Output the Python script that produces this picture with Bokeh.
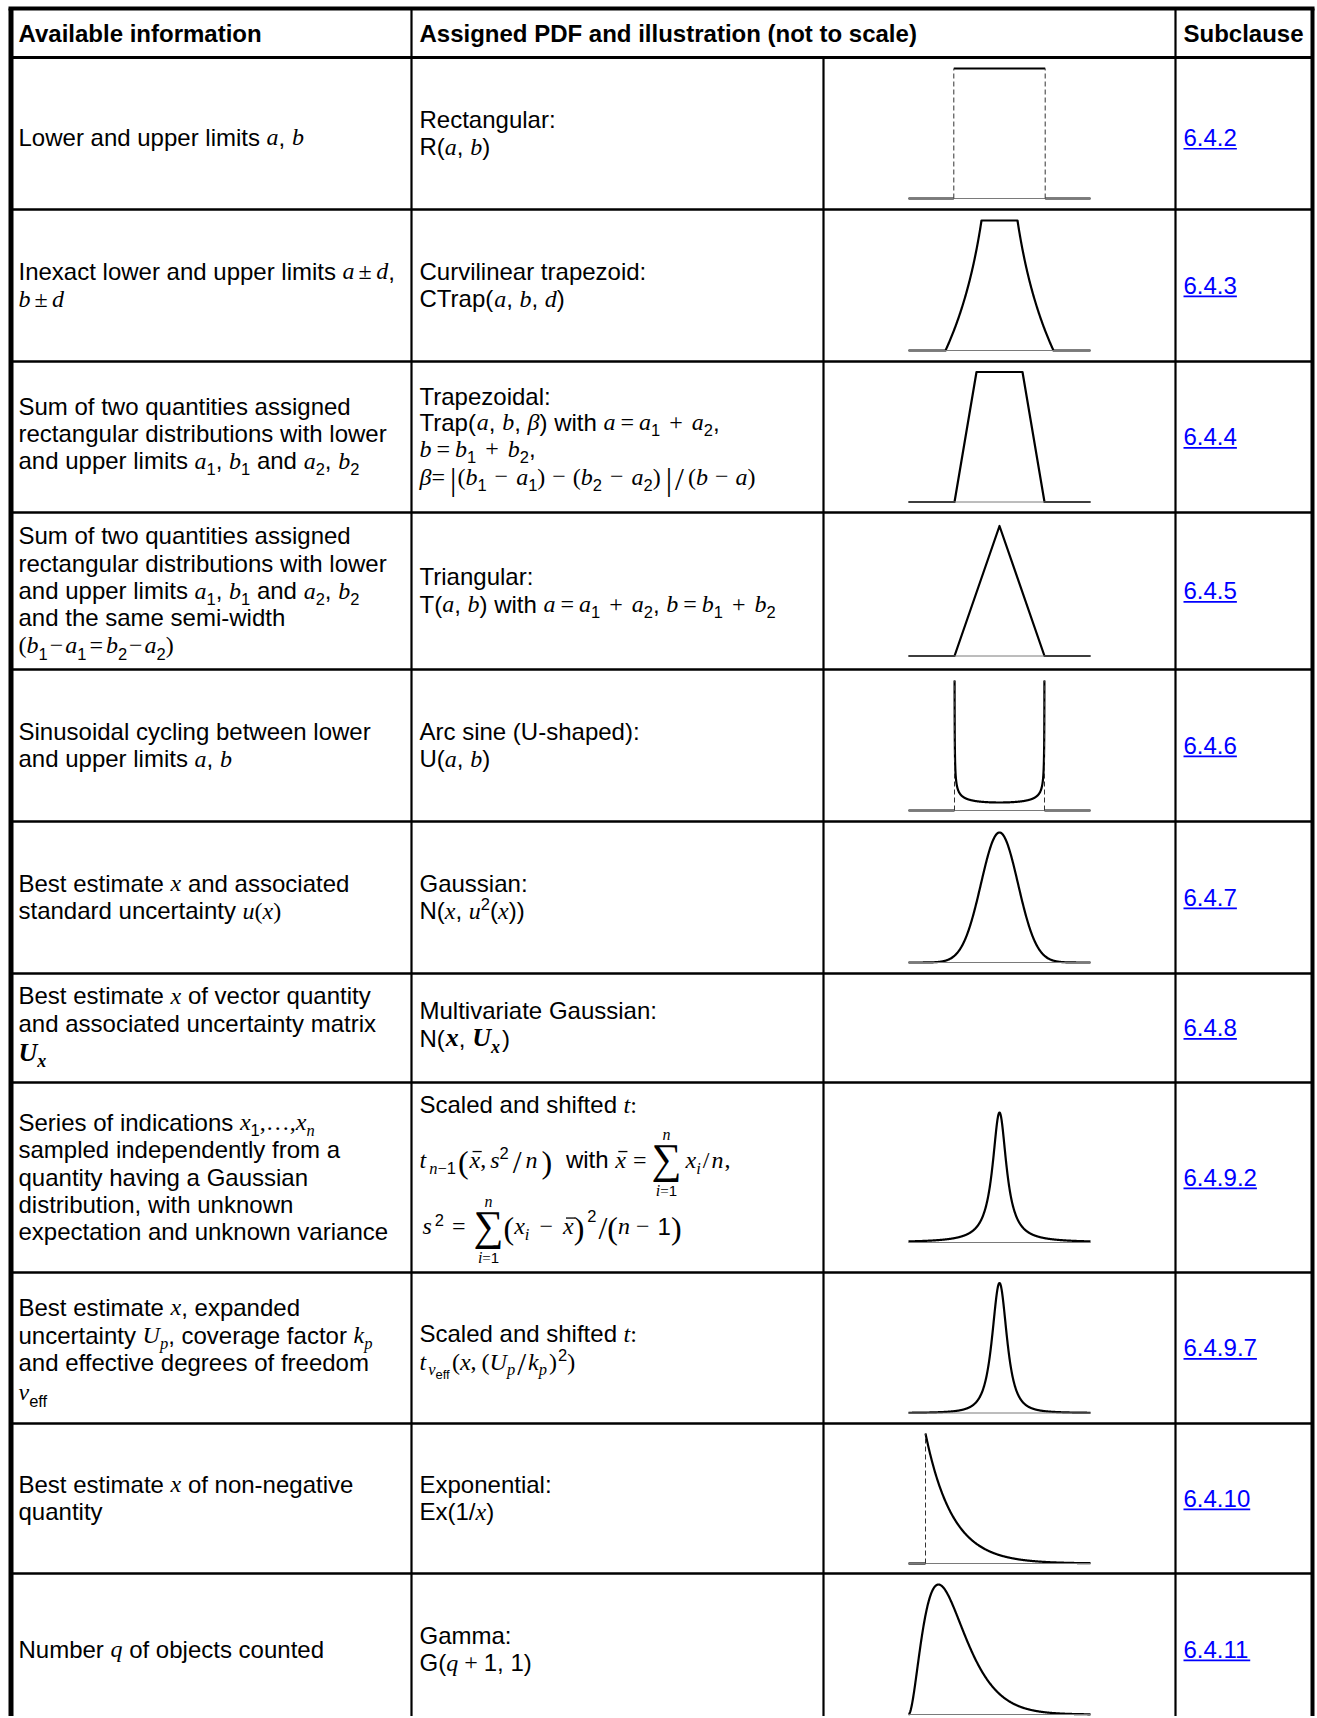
import numpy as np
from collections import defaultdict
from bokeh.plotting import figure
from bokeh.models import Range1d, ColumnDataSource
from bokeh.core.properties import value
from bokeh.embed import file_html
from bokeh.resources import INLINE

# ---------------------------------------------------------------- data
HEADERS = ["Available information",
           "Assigned PDF and illustration (not to scale)",
           "Subclause"]
SUBCLAUSES = ["6.4.2", "6.4.3", "6.4.4", "6.4.5", "6.4.6", "6.4.7", "6.4.8",
              "6.4.9.2", "6.4.9.7", "6.4.10", "6.4.11"]
PDF_KINDS = ["rect", "ctrap", "trap", "tri", "arcsine", "gauss", None,
             "t", "t", "exp", "gamma"]
PDF_PARAMS = [{"half": 45.7}, {"w": 36, "d": 18}, {"base": 45, "top": 23},
              {"half": 45}, {"half": 45, "floor": 8}, {"sigma": 18.5}, {},
              {"nu": 1, "scale": 8.4}, {"nu": 2, "scale": 8.0},
              {"start": -74, "lam": 27}, {"start": -91, "k": 3, "theta": 15}]


# rich-text helpers
def R(t): return (t, 'r')
def I(t): return (t, 'i')
def S(t): return (t, 's')
def BI(t): return (t, 'bi')
def SUB(t): return (t, 'sub')
def SUBI(t): return (t, 'subi')
def SUBS(t): return (t, 'subs')
def SUBBI(t): return (t, 'subbi')
def SUP(t): return (t, 'sup')
def SUP2(t): return (t, 'sup2')
def SSUB(t): return (t, 'ssub')
def BIG(t): return (t, 'big')
def GAP(px): return ('__gap', px)
def BAR(t): return ('__bar', t, 'i')
def SUM(up, lo): return ('__sum', up, lo)
def OP(sym, g=3, g2=None): return [GAP(g), S(sym), GAP(g if g2 is None else g2)]


def L(*parts):
    out = []
    for q in parts:
        if isinstance(q, list):
            out.extend(q)
        else:
            out.append(q)
    return out


LIM_UP = [('n', 'lim')]
LIM_LO = [('i', 'lim'), ('=', 'lims'), ('1', 'limr')]

AVAILABLE_INFO = [
    [L(R("Lower and upper limits "), I("a"), R(", "), I("b"))],
    [L(R("Inexact lower and upper limits "), I("a"), OP("±", 4), I("d"), R(",")),
     L(I("b"), OP("±", 4), I("d"))],
    [[R("Sum of two quantities assigned")],
     [R("rectangular distributions with lower")],
     L(R("and upper limits "), I("a"), SUB("1"), R(", "), I("b"), SUB("1"), R(" and "),
       I("a"), SUB("2"), R(", "), I("b"), SUB("2"))],
    [[R("Sum of two quantities assigned")],
     [R("rectangular distributions with lower")],
     L(R("and upper limits "), I("a"), SUB("1"), R(", "), I("b"), SUB("1"), R(" and "),
       I("a"), SUB("2"), R(", "), I("b"), SUB("2")),
     [R("and the same semi-width")],
     L(S("("), I("b"), SUB("1"), OP("−", 2), I("a"), SUB("1"), OP("=", 3), I("b"), SUB("2"),
       OP("−", 2), I("a"), SUB("2"), S(")"))],
    [[R("Sinusoidal cycling between lower")],
     L(R("and upper limits "), I("a"), R(", "), I("b"))],
    [L(R("Best estimate "), I("x"), R(" and associated")),
     L(R("standard uncertainty "), I("u"), S("("), I("x"), S(")"))],
    [L(R("Best estimate "), I("x"), R(" of vector quantity")),
     [R("and associated uncertainty matrix")],
     L(BI("U"), SUBBI("x"))],
    [L(R("Series of indications "), I("x"), SUB("1"), S(",…,"), I("x"), SUBI("n")),
     [R("sampled independently from a")],
     [R("quantity having a Gaussian")],
     [R("distribution, with unknown")],
     [R("expectation and unknown variance")]],
    [L(R("Best estimate "), I("x"), R(", expanded")),
     L(R("uncertainty "), I("U"), SUBI("p"), R(", coverage factor "), I("k"), SUBI("p")),
     [R("and effective degrees of freedom")],
     L(I("ν"), SUB("eff"))],
    [L(R("Best estimate "), I("x"), R(" of non-negative")),
     [R("quantity")]],
    [L(R("Number "), I("q"), R(" of objects counted"))],
]

T_LINE2 = L(I("t"), GAP(3), SUBI("n"), SUBS("−"), SUB("1"), GAP(2), BIG("("), GAP(1), BAR("x"),
            S(","), GAP(4), I("s"), SUP("2"), GAP(4), BIG("/"), GAP(4), I("n"), GAP(4), BIG(")"),
            GAP(7), R(" with "), BAR("x"), OP("=", 7), SUM(LIM_UP, LIM_LO), GAP(6), I("x"),
            SUBI("i"), GAP(2), S("/"), GAP(2), I("n"), GAP(1), S(","))
T_LINE3 = L(GAP(3), I("s"), GAP(3), SUP("2"), OP("=", 8, 10), SUM(LIM_UP, LIM_LO), GAP(2),
            BIG("("), I("x"), SUBI("i"), OP("−", 10), BAR("x"), BIG(")"), GAP(3), SUP2("2"),
            GAP(2), BIG("/"), BIG("("), I("n"), OP("−", 6, 8), R("1"), BIG(")"))

ASSIGNED_PDF = [
    [[R("Rectangular:")], L(R("R("), I("a"), R(", "), I("b"), R(")"))],
    [[R("Curvilinear trapezoid:")],
     L(R("CTrap("), I("a"), R(", "), I("b"), R(", "), I("d"), R(")"))],
    [[R("Trapezoidal:")],
     L(R("Trap("), I("a"), R(", "), I("b"), R(", "), I("β"), R(") with "), I("a"), OP("=", 5),
       I("a"), SUB("1"), OP("+", 9), I("a"), SUB("2"), R(",")),
     L(I("b"), OP("=", 5), I("b"), SUB("1"), OP("+", 9), I("b"), SUB("2"), R(",")),
     L(I("β"), S("="), GAP(5), BIG("|"), GAP(1), S("("), I("b"), SUB("1"), OP("−", 8), I("a"),
       SUB("1"), S(")"), OP("−", 7), S("("), I("b"), SUB("2"), OP("−", 8), I("a"), SUB("2"),
       S(")"), GAP(5), BIG("|"), GAP(3), BIG("/"), GAP(4), S("("), I("b"), OP("−", 7), I("a"),
       S(")"))],
    [[R("Triangular:")],
     L(R("T("), I("a"), R(", "), I("b"), R(") with "), I("a"), OP("=", 5), I("a"), SUB("1"),
       OP("+", 9), I("a"), SUB("2"), R(", "), I("b"), OP("=", 5), I("b"), SUB("1"),
       OP("+", 9), I("b"), SUB("2"))],
    [[R("Arc sine (U-shaped):")], L(R("U("), I("a"), R(", "), I("b"), R(")"))],
    [[R("Gaussian:")],
     L(R("N("), I("x"), R(", "), I("u"), SUP("2"), R("("), I("x"), R("))"))],
    [[R("Multivariate Gaussian:")],
     L(R("N("), GAP(1), BI("x"), R(", "), BI("U"), SUBBI("x"), GAP(2), R(")"))],
    [L(R("Scaled and shifted "), I("t"), S(":")), T_LINE2, T_LINE3],
    [L(R("Scaled and shifted "), I("t"), S(":")),
     L(I("t"), GAP(2), SUBI("ν"), SSUB("eff"), GAP(2), S("("), I("x"), S(","), GAP(5), S("("),
       I("U"), SUBI("p"), GAP(2), BIG("/"), GAP(2), I("k"), SUBI("p"), GAP(2), S(")"),
       GAP(1), SUP("2"), S(")"))],
    [[R("Exponential:")], L(R("Ex(1/"), I("x"), R(")"))],
    [[R("Gamma:")], L(R("G("), I("q"), OP("+", 6), R("1, 1)"))],
]

# ---------------------------------------------------------------- layout
ROW_Y = [8, 57, 209, 361, 512, 669, 821, 973, 1082, 1272, 1423, 1573, 1725]
X_LEFT, X_C1, X_C2, X_C3, X_RIGHT = 10.5, 411, 823, 1175, 1312
TEXT_X = [18, 419, 1183]
ILL_CX, ILL_HALF, ILL_H = 999, 91, 130
LEAD = 27.4
BASE_OFF = 8.3          # baseline below the visual centre of a line
KBASE = 0.365           # renderer: drawn baseline sits this many ems below y
INFO_ADV = {6: [27.4, 30.0], 8: [27.6, 27.3, 30.0]}
INFO_SHIFT = {0: 4.4, 2: -3.0, 6: -3.0, 8: 2.4}
PDF_ADV = {2: [25.5, 26.5, 28.0], 6: [28.3], 7: [55.0, 66.5], 8: [28.0]}
PDF_SHIFT = {6: -3.0, 7: -11.5}
SUB_SHIFT = {0: 4.4}

PW, PH = 1316, 1716
XR = (0, PW)
YR = (0, PH)

FS = 24.0
SS = 16.5
STY = {
    'r': ('Liberation Sans', 'normal', FS, 0, 'sans'),
    'b': ('Liberation Sans', 'bold', FS, 0, 'sansb'),
    'i': ('Liberation Serif', 'italic', FS, 0, 'serifi'),
    's': ('Liberation Serif', 'normal', FS, 0, 'serif'),
    'bi': ('Liberation Serif', 'bold italic', 26, 0, 'serifbi'),
    'sub': ('Liberation Sans', 'normal', SS, 5.5, 'sans'),
    'subi': ('Liberation Serif', 'italic', SS, 5.5, 'serifi'),
    'subs': ('Liberation Serif', 'normal', SS, 5.5, 'serif'),
    'subbi': ('Liberation Serif', 'bold italic', 18, 6, 'serifbi'),
    'sup': ('Liberation Sans', 'normal', SS, -9.5, 'sans'),
    'sup2': ('Liberation Sans', 'normal', SS, -13, 'sans'),
    'ssub': ('Liberation Sans', 'normal', 13, 9, 'sans'),
    'big': ('Liberation Serif', 'normal', 32, 5, 'serif'),
    'sum': ('Liberation Serif', 'normal', 42, 6, 'serif'),
    'lim': ('Liberation Serif', 'italic', 16, 0, 'serifi'),
    'lims': ('Liberation Serif', 'normal', 15, 0, 'serif'),
    'limr': ('Liberation Sans', 'normal', 15, 0, 'sans'),
    'link': ('Liberation Sans', 'normal', FS, 0, 'sans'),
}

UP = "ABCDEFGHIJKLMNOPQRSTUVWXYZ"
LO = "abcdefghijklmnopqrstuvwxyz"
W = {k: {} for k in ['sans', 'sansb', 'serif', 'serifi', 'serifbi']}
W['sans'].update(zip(UP, [667, 667, 722, 722, 667, 611, 778, 722, 278, 500, 667, 556, 833, 722,
                          778, 667, 778, 722, 667, 611, 722, 667, 944, 667, 667, 611]))
W['sans'].update(zip(LO, [556, 556, 500, 556, 556, 278, 556, 556, 222, 222, 500, 222, 833, 556,
                          556, 556, 556, 333, 500, 278, 556, 500, 722, 500, 500, 500]))
W['sans'].update({d: 556 for d in "0123456789"})
W['sans'].update({' ': 278, '(': 333, ')': 333, ',': 278, '-': 333, '.': 278, '/': 278,
                  ':': 278, '=': 584, '+': 584, '±': 584, '−': 584, '…': 1000, '|': 260})
W['sansb'].update(zip(UP, [722, 722, 722, 722, 667, 611, 778, 722, 278, 556, 722, 611, 833, 722,
                           778, 667, 778, 722, 667, 611, 722, 667, 944, 667, 667, 611]))
W['sansb'].update(zip(LO, [556, 611, 556, 611, 556, 333, 611, 611, 278, 278, 556, 278, 889, 611,
                           611, 611, 611, 389, 556, 333, 611, 556, 778, 556, 556, 500]))
W['sansb'].update({' ': 278, '(': 333, ')': 333, ':': 333, '.': 278, ',': 278})
W['serif'].update({d: 500 for d in "0123456789"})
W['serif'].update({' ': 250, '(': 333, ')': 333, ',': 250, '.': 250, '/': 278, '=': 564,
                   '+': 564, '−': 564, '±': 564, '|': 200, ':': 278, '…': 1000, '∑': 620})
W['serifi'].update(zip(UP, [611, 611, 667, 722, 611, 611, 722, 722, 333, 444, 667, 556, 833, 667,
                            722, 611, 722, 611, 500, 556, 722, 611, 833, 611, 556, 556]))
W['serifi'].update(zip(LO, [500, 500, 444, 500, 444, 278, 500, 500, 278, 278, 444, 278, 722, 500,
                            500, 500, 500, 389, 389, 278, 500, 444, 667, 444, 444, 389]))
W['serifi'].update({' ': 250, ',': 250, ':': 333, '(': 333, ')': 333, 'β': 500, 'ν': 444})
W['serifbi'].update(zip(LO, [500, 500, 444, 500, 444, 333, 500, 556, 278, 278, 500, 278, 778, 556,
                             500, 500, 500, 389, 389, 278, 556, 444, 667, 500, 444, 389]))
W['serifbi'].update({'U': 722, ',': 250})


def tw(text, st):
    wk = STY[st][4]
    size = STY[st][2]
    return sum(W[wk].get(ch, 556) for ch in text) * size / 1000.0


TEXTS = []
SEGS = defaultdict(list)   # (width, color, dash) -> list of (x0,y0,x1,y1)


def emit(x, baseline, t, st, color, align='left'):
    """Place text so that its drawn baseline lands on `baseline`."""
    lead = len(t) - len(t.lstrip(' '))
    core = t.strip(' ')
    if not core:
        return
    x += tw(t[:lead], st)
    size = STY[st][2]
    TEXTS.append((x, baseline - KBASE * size, core, st, color, align))


def seg_width(segs):
    w = 0.0
    for sg in segs:
        if sg[0] == '__gap':
            w += sg[1]
        elif sg[0] == '__bar':
            w += tw(sg[1], sg[2])
        elif sg[0] == '__sum':
            w += 26
        else:
            w += tw(sg[0], sg[1])
    return w


def draw_line(segs, x0, yb, color="black"):
    x = x0
    for sg in segs:
        if sg[0] == '__gap':
            x += sg[1]
            continue
        if sg[0] == '__bar':
            t, st = sg[1], sg[2]
            w = tw(t, st)
            emit(x, yb, t, st, color)
            SEGS[(1.3, color, 'solid')].append((x + 3, yb - 17, x + w + 1.5, yb - 17))
            x += w
            continue
        if sg[0] == '__sum':
            box = 26
            cxs = x + box / 2
            emit(cxs, yb + STY['sum'][3], '∑', 'sum', color, 'center')
            wu = seg_width(sg[1])
            draw_line(sg[1], cxs - wu / 2, yb - 28, color)
            wl = seg_width(sg[2])
            draw_line(sg[2], cxs - wl / 2, yb + 28, color)
            x += box
            continue
        t, st = sg
        emit(x, yb + STY[st][3], t, st, color)
        x += tw(t, st)
    return x


def draw_cell(lines, x0, center, adv=None, shift=0.0, color="black"):
    n = len(lines)
    if adv is None:
        adv = [LEAD] * (n - 1)
    yb = center + BASE_OFF - sum(adv) / 2 + shift
    for i, ln in enumerate(lines):
        draw_line(ln, x0, yb, color)
        if i < n - 1:
            yb += adv[i]


# header
hc = (ROW_Y[0] + ROW_Y[1]) / 2
for tx, h in zip(TEXT_X, HEADERS):
    draw_line([(h, 'b')], tx, hc + BASE_OFF + 0.8)

# body rows
for r in range(len(SUBCLAUSES)):
    c = (ROW_Y[r + 1] + ROW_Y[r + 2]) / 2
    draw_cell(AVAILABLE_INFO[r], TEXT_X[0], c, INFO_ADV.get(r), INFO_SHIFT.get(r, 0.0))
    draw_cell(ASSIGNED_PDF[r], TEXT_X[1], c, PDF_ADV.get(r), PDF_SHIFT.get(r, 0.0))
    yb = c + BASE_OFF + SUB_SHIFT.get(r, 0.0)
    draw_line([(SUBCLAUSES[r], 'link')], TEXT_X[2], yb, "#0000FF")
    wl = tw(SUBCLAUSES[r], 'link')
    SEGS[(1.6, "#0000FF", 'solid')].append((TEXT_X[2], yb + 2.6, TEXT_X[2] + wl, yb + 2.6))


# ---------------------------------------------------------------- pdf shapes
def pdf_shape(kind, prm):
    thick, dashed = [], []
    A = ILL_HALF
    if kind == "rect":
        h = prm["half"]
        thick = [([-A, -h], [0, 0]), ([-h, h], [1, 1]), ([h, A], [0, 0])]
        dashed = [(-h, 0, 1), (h, 0, 1)]
    elif kind == "ctrap":
        w, d = prm["w"], prm["d"]
        u = np.unique(np.concatenate([np.linspace(-A, A, 600), [-(w + d), -(w - d), w - d, w + d]]))
        a = np.abs(u)
        f = np.where(a <= w - d, np.log((w + d) / (w - d)),
                     np.where(a <= w + d, np.log((w + d) / np.maximum(a, 1e-9)), 0.0))
        thick = [(u, f / f.max())]
    elif kind == "trap":
        b, t = prm["base"], prm["top"]
        thick = [([-A, -b, -t, t, b, A], [0, 0, 1, 1, 0, 0])]
    elif kind == "tri":
        h = prm["half"]
        thick = [([-A, -h, 0, h, A], [0, 0, 1, 0, 0])]
    elif kind == "arcsine":
        h = prm["half"]
        fl = prm["floor"] / ILL_H
        uc = h * np.sqrt(1 - fl ** 2)
        th = np.linspace(-np.pi / 2, np.pi / 2, 500)
        u = uc * np.sin(th)
        f = fl * h / np.sqrt(h ** 2 - u ** 2)
        thick = [([-A, -h], [0, 0]), (u, np.minimum(f, 1)), ([h, A], [0, 0])]
        dashed = [(-h, 0, 1), (h, 0, 1)]
    elif kind == "gauss":
        u = np.linspace(-A, A, 500)
        thick = [(u, np.exp(-u ** 2 / (2 * prm["sigma"] ** 2)))]
    elif kind == "t":
        u = np.linspace(-A, A, 700)
        nu, s = prm["nu"], prm["scale"]
        thick = [(u, (1 + (u / s) ** 2 / nu) ** (-(nu + 1) / 2))]
    elif kind == "exp":
        st, lam = prm["start"], prm["lam"]
        u = np.linspace(st, A, 400)
        thick = [([-A, st], [0, 0]), (u, np.exp(-(u - st) / lam))]
        dashed = [(st, 0, 1)]
    elif kind == "gamma":
        st, k, th = prm["start"], prm["k"], prm["theta"]
        m = (k - 1) * th
        z = np.linspace(0, A - st, 500)
        f = (z / m) ** (k - 1) * np.exp(-(z - m) / th)
        thick = [(st + z, f)]
    return thick, dashed


CURVE_XS, CURVE_YS = [], []
for r, kind in enumerate(PDF_KINDS):
    if kind is None:
        continue
    c = (ROW_Y[r + 1] + ROW_Y[r + 2]) / 2
    yb = c + ILL_H / 2
    SEGS[(1.0, "#7a7a7a", 'solid')].append((ILL_CX - ILL_HALF, yb, ILL_CX + ILL_HALF, yb))
    thick, dashed = pdf_shape(kind, PDF_PARAMS[r])
    for (u, f) in thick:
        u = np.asarray(u, float)
        f = np.asarray(f, float)
        CURVE_XS.append(list(ILL_CX + u))
        CURVE_YS.append(list(yb - f * ILL_H))
    for (u, f0, f1) in dashed:
        SEGS[(1.0, "#333333", '5 3')].append((ILL_CX + u, yb - f0 * ILL_H,
                                              ILL_CX + u, yb - f1 * ILL_H))

# ---------------------------------------------------------------- table rules
BOT = ROW_Y[-1]
SEGS[(4.0, "black", 'solid')] += [(X_LEFT - 2.5, ROW_Y[0], X_RIGHT + 2, ROW_Y[0]),
                                  (X_RIGHT, ROW_Y[0], X_RIGHT, BOT)]
SEGS[(5.0, "black", 'solid')] += [(X_LEFT, ROW_Y[0], X_LEFT, BOT)]
SEGS[(3.0, "black", 'solid')] += [(X_LEFT, ROW_Y[1], X_RIGHT, ROW_Y[1])]
SEGS[(2.4, "black", 'solid')] += [(X_LEFT, y, X_RIGHT, y) for y in ROW_Y[2:-1]]
SEGS[(2.2, "black", 'solid')] += [(X_C1, ROW_Y[0], X_C1, BOT), (X_C3, ROW_Y[0], X_C3, BOT),
                                  (X_C2, ROW_Y[1], X_C2, BOT)]

# ---------------------------------------------------------------- figure
p = figure(width=PW, height=PH, x_range=Range1d(*XR), y_range=Range1d(YR[1], YR[0]),
           output_backend="svg", toolbar_location=None, x_axis_type=None, y_axis_type=None,
           min_border=0, outline_line_color=None, background_fill_color="white",
           border_fill_color="white")

p.multi_line(xs=CURVE_XS, ys=CURVE_YS, line_color="black", line_width=2.2, line_join="round")

for (lw, col, dash), lst in SEGS.items():
    a = np.array(lst, float)
    src = ColumnDataSource(dict(x0=a[:, 0], y0=a[:, 1], x1=a[:, 2], y1=a[:, 3]))
    p.segment(x0='x0', y0='y0', x1='x1', y1='y1', source=src, line_color=col,
              line_width=lw, line_dash=dash)

groups = defaultdict(lambda: {'x': [], 'y': [], 'text': []})
for (x, y, t, st, col, al) in TEXTS:
    g = groups[(st, col, al)]
    g['x'].append(x)
    g['y'].append(y)
    g['text'].append(t)
for (st, col, al), d in groups.items():
    font, fst, size, dy, wk = STY[st]
    p.text(x='x', y='y', text='text', source=ColumnDataSource(d),
           text_font=value(font), text_font_style=value(fst),
           text_font_size=value(f"{size}px"), text_color=col,
           text_align=value(al), text_baseline=value("alphabetic"))

open("out.html", "w").write(file_html(p, INLINE))
